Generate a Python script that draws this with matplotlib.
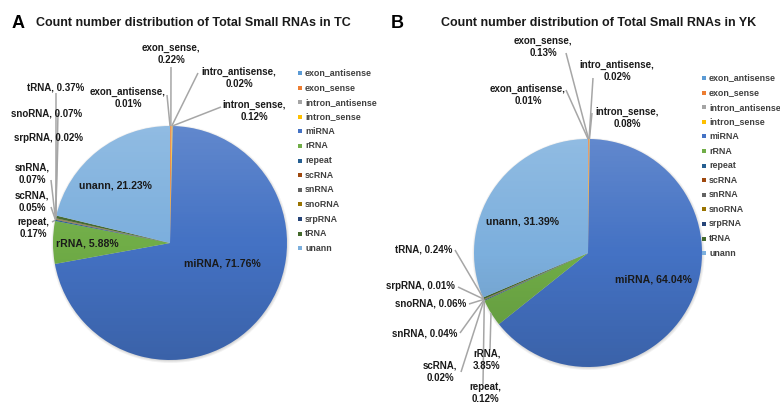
import numpy as np
import matplotlib
matplotlib.use("Agg")
import matplotlib.pyplot as plt
from matplotlib.patches import Circle

plt.rcParams["font.family"] = ["Liberation Sans", "DejaVu Sans"]

# ------------------------------------------------------------------
# Data — percentage of total small RNA counts per category
# ------------------------------------------------------------------

categories = [
    "exon_antisense", "exon_sense", "intron_antisense", "intron_sense",
    "miRNA", "rRNA", "repeat", "scRNA", "snRNA", "snoRNA", "srpRNA",
    "tRNA", "unann",
]
label_names = [
    "exon_antisense", "exon_sense", "intro_antisense", "intron_sense",
    "miRNA", "rRNA", "repeat", "scRNA", "snRNA", "snoRNA", "srpRNA",
    "tRNA", "unann",
]
tc_pct = [0.01, 0.22, 0.02, 0.12, 71.76, 5.88, 0.17, 0.05, 0.07, 0.07, 0.02, 0.37, 21.23]
yk_pct = [0.01, 0.13, 0.02, 0.08, 64.04, 3.85, 0.12, 0.02, 0.04, 0.06, 0.01, 0.24, 31.39]

colors = [
    "#5B9BD5", "#ED7D31", "#A5A5A5", "#FFC000", "#4472C4", "#70AD47",
    "#255E91", "#9E480E", "#636363", "#997300", "#264478", "#43682B",
    "#7CAFDD",
]

# ------------------------------------------------------------------
# Layout (pixel units, y measured from the top of the figure)
# ------------------------------------------------------------------

W, H = 780, 405

# category -> (text x, text y, ha, leader x, leader y, style)
# style: "in" = inside the pie, "one" = single line, "two" = name / value lines
TC_LAYOUT = {
    "exon_sense":       (171, 54, "center", 171, 67, "two"),
    "intron_antisense": (239, 78, "center", 198, 73, "two"),
    "exon_antisense":   (128, 98, "center", 167, 95, "two"),
    "intron_sense":     (254, 111, "center", 221, 107, "two"),
    "tRNA":             (56, 88, "center", 56, 93, "one"),
    "snoRNA":           (47, 113, "center", 58, 113, "one"),
    "srpRNA":           (48, 138, "center", 58, 138, "one"),
    "snRNA":            (32, 174, "center", 51, 180, "two"),
    "scRNA":            (32, 202, "center", 51, 207, "two"),
    "repeat":           (33, 228, "center", 52, 222, "two"),
    "rRNA":             (87, 243, "center", None, None, "in"),
    "unann":            (115, 186, "center", None, None, "in"),
    "miRNA":            (222, 264, "center", None, None, "in"),
}
YK_LAYOUT = {
    "exon_sense":       (543, 47, "center", 566, 53, "two"),
    "intron_antisense": (617, 71, "center", 593, 78, "two"),
    "exon_antisense":   (528, 95, "center", 566, 90, "two"),
    "intron_sense":     (627, 118, "center", 592, 113, "two"),
    "tRNA":             (452, 250, "right", 455, 250, "one"),
    "srpRNA":           (455, 286, "right", 458, 287, "one"),
    "snoRNA":           (466, 304, "right", 469, 304, "one"),
    "snRNA":            (457, 333, "right", 460, 333, "one"),
    "scRNA":            (440, 372, "center", 461, 372, "two"),
    "rRNA":             (487, 360, "center", 490, 350, "two"),
    "repeat":           (485, 393, "center", 483, 384, "two"),
    "unann":            (522, 222, "center", None, None, "in"),
    "miRNA":            (653, 280, "center", None, None, "in"),
}

PANELS = [
    # letter, title, values, pie center, radius, layout, legend x, legend y0,
    # letter position, title position
    ("A", "Count number distribution of Total Small RNAs in TC", tc_pct,
     (170, 243), 117, TC_LAYOUT, 300, 73, (18, 23), (193, 23)),
    ("B", "Count number distribution of Total Small RNAs in YK", yk_pct,
     (588, 253), 114, YK_LAYOUT, 704, 78, (397, 23), (599, 23)),
]

LEG_STEP = 14.6
TEXT_COLOR = "#1a1a1a"
LINE_COLOR = "#A6A6A6"


def fy(y):
    """Convert a top-down pixel y into axes data y."""
    return H - y


fig = plt.figure(figsize=(W / 100, H / 100), dpi=100)
ax = fig.add_axes([0, 0, 1, 1])
ax.set_xlim(0, W)
ax.set_ylim(0, H)
ax.set_aspect("equal")
ax.axis("off")

for (letter, title, values, (cx, cy), r, layout, leg_x, leg_y,
     letter_xy, title_xy) in PANELS:
    center = (cx, fy(cy))

    # soft drop shadow under the pie
    for k, a in enumerate([0.05, 0.05, 0.06]):
        ax.add_patch(Circle((center[0] + 0.5, center[1] - 1.0), r + 2.0 - k,
                            color="black", alpha=a, lw=0, zorder=1))

    wedges, _ = ax.pie(
        values, colors=colors, startangle=90, counterclock=False,
        center=center, radius=r, wedgeprops=dict(linewidth=0),
        normalize=True, frame=True,
    )
    for w in wedges:
        w.set_zorder(2)

    # vertical light-to-dark shading across the pie
    grad = np.zeros((200, 2, 4))
    t = np.linspace(0, 1, 200)[:, None]
    grad[..., :3] = np.where(t < 0.5, 1.0, 0.0)[..., None]
    grad[..., 3] = np.where(t < 0.5, 0.16 * (0.5 - t) * 2, 0.14 * (t - 0.5) * 2)
    img = ax.imshow(grad, extent=(center[0] - r, center[0] + r,
                                  center[1] - r, center[1] + r),
                    origin="upper", interpolation="bilinear", zorder=3)
    img.set_clip_path(Circle(center, r, transform=ax.transData))

    # data labels with leader lines
    for i, cat in enumerate(categories):
        tx, ty, ha, lx, ly, style = layout[cat]
        name, pct = label_names[i], f"{values[i]:.2f}%"
        if style == "in":
            ax.text(tx, fy(ty), f"{name}, {pct}", ha="center", va="center",
                    fontsize=7.6, fontweight="bold", color=TEXT_COLOR, zorder=6)
            continue
        w = wedges[i]
        mid = np.deg2rad((w.theta1 + w.theta2) / 2)
        rim = (center[0] + r * np.cos(mid), center[1] + r * np.sin(mid))
        ax.plot([rim[0], lx], [rim[1], fy(ly)], color=LINE_COLOR, lw=1.1,
                zorder=4, solid_capstyle="butt")
        s = f"{name}, {pct}" if style == "one" else f"{name},\n{pct}"
        ax.text(tx, fy(ty), s, ha=ha, va="center", fontsize=7,
                fontweight="bold", color=TEXT_COLOR, linespacing=1.3,
                multialignment="center", zorder=6)

    # legend
    for i, cat in enumerate(categories):
        yy = fy(leg_y + i * LEG_STEP)
        ax.scatter([leg_x], [yy], marker="s", s=9, color=colors[i],
                   linewidths=0, zorder=6)
        ax.text(leg_x + 5, yy, cat, ha="left", va="center", fontsize=6.4,
                fontweight="bold", color="#404040", zorder=6)

    ax.text(letter_xy[0], fy(letter_xy[1]), letter, ha="center", va="center",
            fontsize=13, fontweight="bold", color="black")
    ax.text(title_xy[0], fy(title_xy[1]), title, ha="center", va="center",
            fontsize=9, fontweight="bold", color=TEXT_COLOR)

ax.set_xlim(0, W)
ax.set_ylim(0, H)
fig.savefig("out.png", dpi=100)
